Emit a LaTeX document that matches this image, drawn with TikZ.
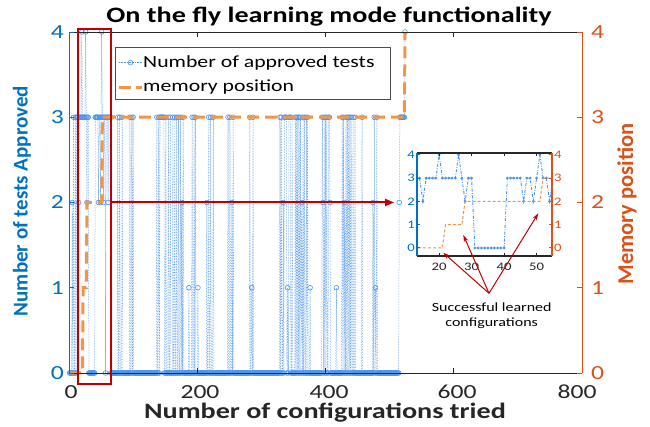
\documentclass[tikz,border=0pt]{standalone}
\usepackage{fontspec}
\setmainfont{Carlito}[FakeStretch=1.28]
\newfontfamily\rotfont{Carlito}
\usetikzlibrary{arrows.meta,plotmarks}

\definecolor{axblue}{RGB}{0,114,189}
\definecolor{axorange}{RGB}{217,83,25}
\definecolor{testblue}{RGB}{77,148,235}
\definecolor{memorange}{RGB}{242,150,70}
\definecolor{hlred}{RGB}{192,0,0}
\definecolor{axdark}{RGB}{38,38,38}

% Build the list of (trial, approved tests) points from a string of digits
\newcount\seqx
\def\seqpts{}
\def\readseq#1{%
  \ifx#1\relax\else
    \advance\seqx by 1
    \edef\seqpts{\seqpts(\the\seqx,#1)}%
    \expandafter\readseq
  \fi}
\readseq
0000203003 0333233334 3333343233 0000000000 3333323323
4332330333 2333030000 0000030030 0030000000 0000300303
0000000000 0000000000 0000000000 0000003003 0333333300
3000300300 0300300300 3003020300 0000001000 0300303000
1000000000 0000200300 3000300000 0000000000 0000000300
3002030000 0000000000 0000000000 0300103000 0000000000
0000000000 0000000000 0000000030 3002033330 1033300300
0030303030 3020303003 0300010000 0000000000 0000320303
0300332000 0000001000 0000030302 0303030303 0030030000
0000003000 0000000000 0002030103 0000000000 0000000000
0000000000 0000233333 3334\relax

\tikzset{
  testline/.style={draw=testblue, line width=0.5pt, dash pattern=on 0.6pt off 1pt,
    mark=o, mark size=2.4pt, mark options={solid, draw=testblue, line width=0.6pt}},
  memline/.style={draw=memorange, line width=3pt, dash pattern=on 12pt off 6pt},
  insettest/.style={draw=testblue, line width=0.9pt, dash pattern=on 3pt off 1.5pt on 0.8pt off 1.5pt,
    mark=*, mark size=0.9pt, mark options={solid, fill=testblue, draw=testblue}},
  insetmem/.style={draw=memorange, line width=1pt, dash pattern=on 3pt off 2pt},
  ticklab/.style={inner sep=1pt, font=\fontsize{20}{22}\selectfont},
  smalllab/.style={inner sep=1pt, font=\fontsize{11.5}{13}\selectfont},
  axlab/.style={inner sep=0pt, font=\fontsize{22}{24}\selectfont\bfseries},
  rotlab/.style={inner sep=0pt, rotate=90, font=\rotfont\fontsize{21}{24}\selectfont\bfseries},
  callout/.style={draw=hlred, line width=1pt, -{Stealth[length=7pt,width=4.5pt]}},
}

\begin{document}
\begin{tikzpicture}[x=1pt,y=1pt]
\useasboundingbox (0,0) rectangle (650,427);
\fill[white] (0,0) rectangle (650,427);

% ---- main data ----
\begin{scope}[shift={(69,54)}, x=0.64125pt, y=85.25pt]
  \edef\drawtests{\noexpand\draw[testline] plot coordinates {\seqpts};}
  \drawtests
  \draw[memline] (0,0) -- (21,0) -- (22,1) -- (27,1) -- (28,2) -- (51,2) -- (52,3) -- (523,3) -- (524,4);
  \coordinate (tgt) at (507,2);
\end{scope}

% ---- main axes ----
\draw[axdark, line width=0.7pt] (69,395) -- (582,395);
\draw[axdark, line width=0.7pt] (69,54) -- (582,54);
\foreach \t in {200,400,600} {
  \draw[axdark, line width=0.7pt] ({69+0.64125*\t},54) -- ++(0,5);
  \draw[axdark, line width=0.7pt] ({69+0.64125*\t},395) -- ++(0,-5);
}
\draw[axblue, line width=0.9pt] (69,54) -- (69,395);
\draw[axorange, line width=0.9pt] (582,54) -- (582,395);
\foreach \v in {0,...,4} {
  \draw[axblue, line width=0.9pt] (69,{54+85.25*\v}) -- ++(5,0);
  \draw[axorange, line width=0.9pt] (582,{54+85.25*\v}) -- ++(-5,0);
  \node[ticklab, text=axblue, anchor=east] (yl\v) at (65,{54+85.25*\v}) {\v};
  \node[ticklab, text=axorange, anchor=west] (yr\v) at (590,{54+85.25*\v}) {\v};
}
\foreach \t/\p in {0/71,200/200,400/329,600/457,800/577} {
  \node[ticklab, text=axdark, anchor=base, inner sep=0pt, text depth=0pt] (xl\t) at (\p,28) {\t};
}

% ---- titles ----
\node[font=\fontsize{22}{26}\selectfont\bfseries, text=black] (title) at (329,410) {On the fly learning mode functionality};
\node[axlab, text=axdark, anchor=base, text height=14.5pt] (xlab) at (325,8.5) {Number of configurations tried};
\node[rotlab, text=axblue] (ylab) at (22,226) {Number of tests Approved};
\node[rotlab, text=axorange, font=\rotfont\fontsize{22.5}{24}\selectfont\bfseries] (y2lab) at (627,223) {Memory position};

% ---- legend ----
\node[draw=black!70, fill=white, line width=0.6pt, minimum width=275pt, minimum height=52pt, inner sep=0pt] (legend) at (252.5,354) {};
\draw[testline, mark=none] (119,364.3) -- (142,364.3);
\draw[testblue, line width=0.6pt] (130.5,364.3) circle (2.4pt);
\node[anchor=west, inner sep=0pt, font=\fontsize{17}{20}\selectfont] (leg1) at (143,364.3) {Number of approved tests};
\draw[draw=memorange, line width=3pt, dash pattern=on 12pt off 5pt] (119,339.7) -- (142,339.7);
\node[anchor=west, inner sep=0pt, font=\fontsize{17}{20}\selectfont] (leg2) at (143,339.7) {memory position};

% ---- highlighted region and pointer ----
\node[draw=hlred, line width=2.5pt, minimum width=33pt, minimum height=355pt, inner sep=0pt] (zoombox) at (94.5,220.5) {};
\draw[hlred, line width=2pt, -{Triangle[length=9pt,width=7pt]}] (zoombox.east |- tgt) -- (tgt);

% ---- inset ----
\begin{scope}[shift={(374.1,179)}, x=3.25pt, y=23.3pt]
  \fill[white] (13.2,-0.343) rectangle (54.74,4.077);
  \begin{scope}
    \clip (13.2,-0.343) rectangle (54.74,4.077);
    \draw[insettest] plot coordinates {(12,3)(13,3)(14,3)(15,2)(16,3)(17,3)(18,3)(19,3)(20,4)(21,3)(22,3)(23,3)(24,3)(25,3)(26,4)(27,3)(28,2)(29,3)(30,3)(31,0)(32,0)(33,0)(34,0)(35,0)(36,0)(37,0)(38,0)(39,0)(40,0)(41,3)(42,3)(43,3)(44,3)(45,3)(46,2)(47,3)(48,3)(49,2)(50,3)(51,4)(52,3)(53,3)(54,2)(55,3)};
    \draw[insetmem] (12,0) -- (21,0) -- (22,1) -- (27,1) -- (28,2) -- (51,2) -- (52,3) -- (56,3);
  \end{scope}
  \draw[black!85, line width=1.5pt] (13.2,4.077) -- (54.74,4.077);
  \draw[black!85, line width=1.5pt] (13.2,-0.343) -- (54.74,-0.343);
  \foreach \t in {20,30,40,50} {
    \draw[black!85, line width=1pt] (\t,4.077) -- ++(0,-3pt);
    \draw[black!85, line width=1pt] (\t,-0.343) -- ++(0,3pt);
    \node[smalllab, text=axdark, anchor=north] (ixl\t) at (\t,-0.6) {\t};
  }
  \draw[axblue, line width=1.8pt] (13.2,-0.343) -- (13.2,4.077);
  \draw[axorange, line width=1.8pt] (54.74,-0.343) -- (54.74,4.077);
  \foreach \v in {0,...,4} {
    \draw[axblue, line width=1pt] (13.2,\v) -- ++(3pt,0);
    \draw[axorange, line width=1pt] (54.74,\v) -- ++(-3pt,0);
    \node[smalllab, text=axblue, anchor=east] (iyl\v) at ([xshift=-1pt]13.2,\v) {\v};
    \node[smalllab, text=axorange, anchor=west] (iyr\v) at ([xshift=1pt]54.74,\v) {\v};
  }
\end{scope}

% ---- callout ----
\coordinate (fan) at (489,133.7);
\coordinate (c1) at (443.3,174.3);
\coordinate (c2) at (463.3,192);
\coordinate (c3) at (538.3,213.7);
\draw[callout] (fan) -- (c1);
\draw[callout] (fan) -- (c2);
\draw[callout] (fan) -- (c3);
\node[align=center, font=\fontsize{12.5}{15}\selectfont, inner sep=0pt] (note) at (491.7,111.5) {Successful learned\\configurations};
\end{tikzpicture}
\end{document}
